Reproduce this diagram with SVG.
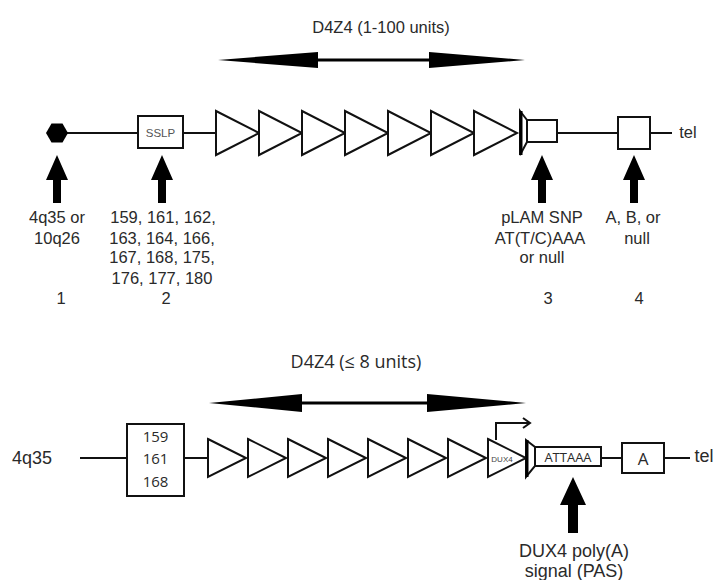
<svg xmlns="http://www.w3.org/2000/svg" width="719" height="580" viewBox="0 0 719 580">
<style>
.t{font-family:"Liberation Sans",Arial,sans-serif;font-size:16.5px;fill:#2a2a2a;text-anchor:middle}
.b{font-family:"Liberation Sans",Arial,sans-serif;font-size:18px;fill:#2a2a2a;text-anchor:middle}
.o{font-family:"Open Sans","Liberation Sans",sans-serif;fill:#2a2a2a;text-anchor:middle}
.s{fill:none;stroke:#111;stroke-width:2}
.w{fill:#fff;stroke:#111;stroke-width:2;stroke-linejoin:miter}
.f{fill:#000;stroke:none}
</style>
<defs>
<polygon id="up" points="0,0 11,25 4,25 4,48 -4,48 -4,25 -11,25" class="f"/>
<polygon id="triA" points="0,-22 43,0 0,22" class="w"/>
<polygon id="triB" points="0,-19 38,0 0,19" class="w"/>
</defs>
<rect width="719" height="580" fill="#fff"/>

<g id="connectors">
<line x1="67" y1="133" x2="138" y2="133" class="s"/>
<line x1="183" y1="133" x2="216" y2="133" class="s"/>
<line x1="557" y1="133" x2="618" y2="133" class="s"/>
<line x1="650" y1="133" x2="672" y2="133" class="s"/>
<line x1="80" y1="458" x2="127" y2="458" class="s"/>
<line x1="184" y1="458" x2="208" y2="458" class="s"/>
<line x1="601" y1="458" x2="622" y2="458" class="s"/>
<line x1="664" y1="458" x2="690" y2="458" class="s"/>
</g>

<g id="top-span">
<text class="t" x="381" y="33">D4Z4 (1-100 units)</text>
<line x1="310" y1="60" x2="440" y2="60" stroke="#000" stroke-width="3"/>
<polygon class="f" points="218,60 318,52 318,68"/>
<polygon class="f" points="525,60 429,52 429,68"/>
</g>

<g id="hexagon">
<polygon class="f" points="68,133 62.5,123.5 51.5,123.5 46,133 51.5,142.5 62.5,142.5"/>
</g>
<g id="sslp">
<rect x="138" y="116" width="45" height="32" class="w"/>
<text x="160.5" y="137" font-family="Liberation Sans,Arial,sans-serif" font-size="11.5" fill="#555" text-anchor="middle">SSLP</text>
</g>
<g id="top-repeats">
<use href="#triA" x="216" y="133"/>
<use href="#triA" x="259" y="133"/>
<use href="#triA" x="302" y="133"/>
<use href="#triA" x="345" y="133"/>
<use href="#triA" x="388" y="133"/>
<use href="#triA" x="431" y="133"/>
<use href="#triA" x="474" y="133"/>
</g>
<g id="top-plam">
<polygon points="520,111 527,120 527,142 520,155" class="w"/>
<line x1="521" y1="111" x2="521" y2="155" stroke="#000" stroke-width="3"/>
<rect x="527" y="120" width="30" height="22" class="w"/>
</g>
<g id="top-box4">
<rect x="618" y="117" width="32" height="32" class="w"/>
</g>
<text class="t" x="688" y="138">tel</text>

<g id="marker1">
<use href="#up" x="57" y="155"/>
<text class="t" x="57" y="223">4q35 or</text>
<text class="t" x="57" y="244">10q26</text>
<text class="t" x="61" y="304">1</text>
</g>
<g id="marker2">
<use href="#up" x="162" y="155"/>
<text class="t" x="163" y="223">159, 161, 162,</text>
<text class="t" x="162" y="244">163, 164, 166,</text>
<text class="t" x="162" y="263">167, 168, 175,</text>
<text class="t" x="162" y="284">176, 177, 180</text>
<text class="t" x="166" y="304">2</text>
</g>
<g id="marker3">
<use href="#up" x="542" y="155"/>
<text class="t" x="542" y="223">pLAM SNP</text>
<text class="t" x="540" y="244">AT(T/C)AAA</text>
<text class="t" x="542" y="263">or null</text>
<text class="t" x="548" y="304">3</text>
</g>
<g id="marker4">
<use href="#up" x="634" y="155"/>
<text class="t" x="633" y="223">A, B, or</text>
<text class="t" x="637" y="244">null</text>
<text class="t" x="639" y="304">4</text>
</g>

<g id="bottom-span">
<text class="o" x="356" y="368" font-size="18">D4Z4 (≤ 8 units)</text>
<line x1="295" y1="403" x2="435" y2="403" stroke="#000" stroke-width="3"/>
<polygon class="f" points="209,403 302,394 302,412"/>
<polygon class="f" points="526,403 427,394 427,412"/>
</g>

<text class="b" x="32" y="464">4q35</text>
<g id="bottom-sslp">
<rect x="127" y="424" width="57" height="72" class="w"/>
<text class="o" x="155.5" y="442" font-size="15">159</text>
<text class="o" x="155.5" y="464" font-size="15">161</text>
<text class="o" x="155.5" y="487" font-size="15">168</text>
</g>
<g id="bottom-repeats">
<use href="#triB" x="208" y="458"/>
<use href="#triB" x="248" y="458"/>
<use href="#triB" x="288" y="458"/>
<use href="#triB" x="328" y="458"/>
<use href="#triB" x="368" y="458"/>
<use href="#triB" x="408" y="458"/>
<use href="#triB" x="448" y="458"/>
</g>
<g id="dux4">
<use href="#triB" x="488" y="458"/>
<text x="502" y="462" font-family="Liberation Sans,Arial,sans-serif" font-size="8" fill="#444" text-anchor="middle">DUX4</text>
<polyline points="496,440 496,423 529,423" class="s"/>
<polyline points="523,418 530,423 523,428" class="s"/>
</g>
<g id="pas">
<polygon points="526,440 535,447 535,466 526,477" class="w"/>
<line x1="527" y1="440" x2="527" y2="477" stroke="#000" stroke-width="3"/>
<rect x="535" y="447" width="66" height="19" class="w"/>
<text class="o" x="568" y="462" font-size="13">ATTAAA</text>
</g>
<g id="box-a">
<rect x="622" y="443" width="42" height="30" class="w"/>
<text class="o" x="643" y="465" font-size="17">A</text>
</g>
<text class="b" x="704" y="462">tel</text>

<g id="marker-pas">
<polygon class="f" points="573,477 586,505 578,505 578,533 568,533 568,505 560,505"/>
<text class="b" x="574" y="557" font-size="17">DUX4 poly(A)</text>
<text class="b" x="574" y="577" font-size="17">signal (PAS)</text>
</g>
</svg>
